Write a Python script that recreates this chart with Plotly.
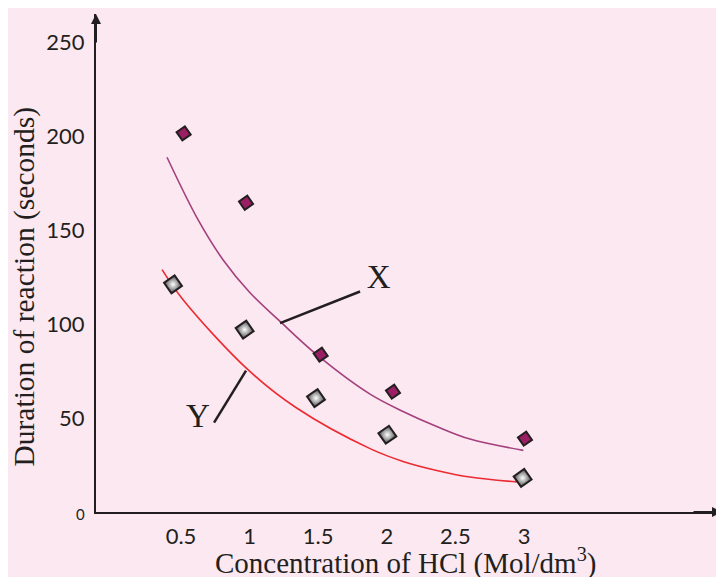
import plotly.graph_objects as go

# ---- data ----
conc_ticks = [0, 0.5, 1, 1.5, 2, 2.5, 3]
conc_tick_labels = ["", "0.5", "1", "1.5", "2", "2.5", "3"]
dur_ticks = [0, 50, 100, 150, 200, 250]
dur_tick_labels = ['<span style="font-size:15px">0</span>', "50", "100", "150", "200", "250"]

# Series X (small purple diamonds)
x_conc = [0.519, 0.974, 1.518, 2.045, 3.007]
x_dur = [201.4, 164.5, 83.7, 64.0, 39.0]
# Series Y (larger grey diamonds)
y_conc = [0.442, 0.964, 1.484, 2.004, 2.990]
y_dur = [121.1, 97.0, 60.6, 41.1, 18.1]

# Hand-drawn trend curves
x_curve_conc = [0.398, 0.624, 0.806, 1.003, 1.222, 1.489, 1.878, 2.118, 2.364, 2.606, 2.995]
x_curve_dur = [188.7, 155.5, 134.2, 116.6, 101.4, 83.7, 62.7, 53.5, 45.5, 38.8, 32.8]
y_curve_conc = [0.362, 0.515, 0.988, 1.343, 1.878, 2.118, 2.364, 2.606, 2.947]
y_curve_dur = [128.9, 112.9, 75.7, 55.3, 33.7, 26.9, 22.1, 18.6, 16.0]

# Curve labels and their leader lines
curve_labels = ["X", "Y"]
label_conc = [1.941, 0.624]
label_dur = [123.4, 49.6]
leader_x_conc = [1.222, 1.805]
leader_x_dur = [100.5, 117.3]
leader_y_conc = [0.741, 0.974]
leader_y_dur = [47.5, 75.2]

x_title = "Concentration of HCl (Mol/dm<sup>3</sup>)"
y_title = "Duration of reaction (seconds)"

BG = "#fce8f0"
INK = "#231f20"
SERIF = "Liberation Serif, Times New Roman, serif"
SANS = "Lato, Open Sans, sans-serif"

fig = go.Figure()

fig.add_trace(go.Scatter(x=x_curve_conc, y=x_curve_dur, mode="lines",
                         line=dict(color="#a3407d", width=1.6, shape="spline", smoothing=1.0),
                         hoverinfo="skip", showlegend=False))
fig.add_trace(go.Scatter(x=y_curve_conc, y=y_curve_dur, mode="lines",
                         line=dict(color="#ec2a32", width=1.6, shape="spline", smoothing=1.0),
                         hoverinfo="skip", showlegend=False))

fig.add_trace(go.Scatter(x=leader_x_conc, y=leader_x_dur, mode="lines",
                         line=dict(color=INK, width=2.5), hoverinfo="skip", showlegend=False))
fig.add_trace(go.Scatter(x=leader_y_conc, y=leader_y_dur, mode="lines",
                         line=dict(color=INK, width=2.5), hoverinfo="skip", showlegend=False))

fig.add_trace(go.Scatter(x=x_conc, y=x_dur, mode="markers", name="X",
                         marker=dict(symbol="diamond", angle=10, size=11, color="#9b1d64",
                                     line=dict(color=INK, width=2)),
                         showlegend=False))
fig.add_trace(go.Scatter(x=y_conc, y=y_dur, mode="markers", name="Y",
                         marker=dict(symbol="diamond", angle=10, size=14, color="#4a4a4a",
                                     gradient=dict(type="radial", color="#ffffff"),
                                     line=dict(color=INK, width=2)),
                         showlegend=False))

fig.add_trace(go.Scatter(x=label_conc, y=label_dur, mode="text", text=curve_labels,
                         textfont=dict(family=SERIF, size=33, color=INK),
                         hoverinfo="skip", showlegend=False))

annotations = [
    # axis arrowheads
    dict(xref="paper", yref="paper", x=0, y=1, ax=0, ay=30, text="", showarrow=True,
         arrowhead=2, arrowsize=1, arrowwidth=2, arrowcolor=INK, standoff=0),
    dict(xref="paper", yref="paper", x=1, y=0, ax=-30, ay=0, text="", showarrow=True,
         arrowhead=2, arrowsize=1, arrowwidth=2, arrowcolor=INK, standoff=0),
    # axis titles
    dict(xref="paper", yref="paper", x=0.495, y=-0.100, xanchor="center", yanchor="middle",
         text=x_title, showarrow=False, font=dict(family=SERIF, size=29, color=INK)),
    dict(xref="paper", yref="paper", x=-0.114, y=0.452, xanchor="center", yanchor="middle",
         text=y_title, textangle=-90, showarrow=False, font=dict(family=SERIF, size=29.5, color=INK)),
]

# page body has an 8px margin, so the figure is sized to fit the 724x577 window
fig.update_layout(
    width=716, height=569,
    margin=dict(l=88, r=2, t=6, b=65),
    paper_bgcolor=BG, plot_bgcolor=BG,
    annotations=annotations,
    xaxis=dict(range=[-0.1195, 4.443], tickvals=conc_ticks, ticktext=conc_tick_labels,
               showgrid=False, zeroline=False, showline=True, linecolor=INK, linewidth=2,
               ticks="", ticklabelstandoff=4,
               tickfont=dict(family=SANS, size=22, color=INK)),
    yaxis=dict(range=[0, 264.9], tickvals=dur_ticks, ticktext=dur_tick_labels,
               showgrid=False, zeroline=False, showline=True, linecolor=INK, linewidth=2,
               ticks="", ticklabelstandoff=5,
               tickfont=dict(family=SANS, size=22, color=INK)),
)

fig.write_html("out.html")
